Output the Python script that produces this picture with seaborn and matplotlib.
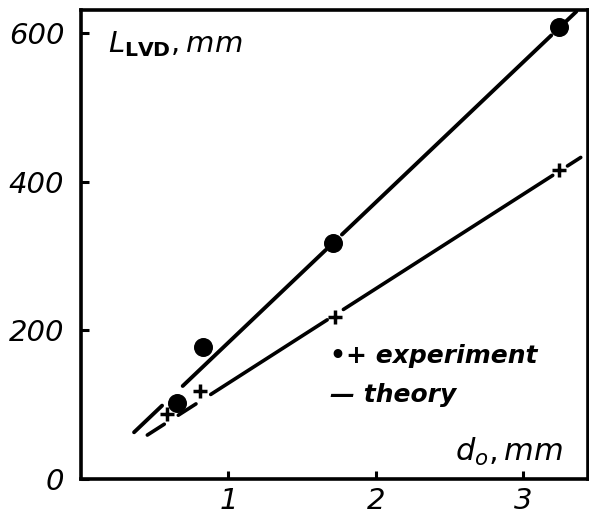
import numpy as np
import pandas as pd
import matplotlib
matplotlib.use("Agg")
import matplotlib.pyplot as plt
import seaborn as sns

# ---- data ----
d_circle = [0.65, 0.83, 1.71, 3.24]
L_circle = [102, 178, 318, 608]
d_cross = [0.585, 0.81, 1.72, 3.245]
L_cross = [87, 118, 218, 415]

# theory lines (drawn in pieces with gaps around markers)
up_slope, up_icpt = 188.6, -5.0
lo_slope, lo_icpt = 127.0, 2.0
up_x = [0.36, 0.55, np.nan, 0.69, 1.66, np.nan, 1.77, 3.19, np.nan, 3.29, 3.36]
lo_x = [0.45, 0.565, np.nan, 0.66, 0.78, np.nan, 0.88, 1.67, np.nan, 1.78, 3.20, np.nan, 3.30, 3.39]

xticks = [1, 2, 3]
yticks = [0, 200, 400, 600]

sns.set_style("ticks")
plt.rcParams['font.family'] = ['DejaVu Sans']
plt.rcParams['mathtext.fontset'] = 'dejavusans'
plt.rcParams['text.color'] = 'black'
plt.rcParams['xtick.color'] = 'black'
plt.rcParams['ytick.color'] = 'black'

fig = plt.figure(figsize=(5.89, 5.19), dpi=100)
ax = fig.add_axes([0.1375, 0.077, 0.861, 0.904])

up_y = [up_slope * x + up_icpt if not np.isnan(x) else np.nan for x in up_x]
lo_y = [lo_slope * x + lo_icpt if not np.isnan(x) else np.nan for x in lo_x]
ax.plot(up_x, up_y, color='black', lw=2.8, solid_capstyle='round')
ax.plot(lo_x, lo_y, color='black', lw=2.6, solid_capstyle='round')

df_c = pd.DataFrame({'d': d_circle, 'L': L_circle})
df_x = pd.DataFrame({'d': d_cross, 'L': L_cross})
sns.scatterplot(data=df_c, x='d', y='L', ax=ax, color='black', s=160,
                marker='o', edgecolor='black', zorder=3)
sns.scatterplot(data=df_x, x='d', y='L', ax=ax, color='black', s=110,
                marker='+', linewidth=2.5, zorder=3)

ax.set_xlim(0, 3.44)
ax.set_ylim(0, 631)
ax.set_xticks(xticks)
ax.set_yticks(yticks)
ax.set_xticklabels([str(t) for t in xticks], fontsize=21, style='italic', color='black')
ax.set_yticklabels([str(t) for t in yticks], fontsize=21, style='italic', color='black')
ax.tick_params(axis='both', direction='in', length=6, width=2.2, color='black')
ax.tick_params(axis='y', pad=12)
ax.tick_params(axis='x', pad=6)
for sp in ax.spines.values():
    sp.set_visible(True)
    sp.set_linewidth(2.6)
    sp.set_color('black')
ax.set_xlabel('')
ax.set_ylabel('')

ax.text(0.18, 585, r'$\mathit{L}_{\mathbf{LVD}}\mathit{,mm}$', fontsize=21,
        va='center', ha='left', color='black')
ax.text(3.27, 15, r'$\mathit{d}_{\mathit{o}}\mathit{,mm}$', fontsize=22,
        va='bottom', ha='right', color='black')
ax.text(1.69, 165, '•+ experiment', fontsize=18, style='italic', weight='bold',
        va='center', ha='left', color='black')
ax.text(1.69, 113, '— theory', fontsize=18, style='italic', weight='bold',
        va='center', ha='left', color='black')

fig.savefig('out.png', dpi=100)
